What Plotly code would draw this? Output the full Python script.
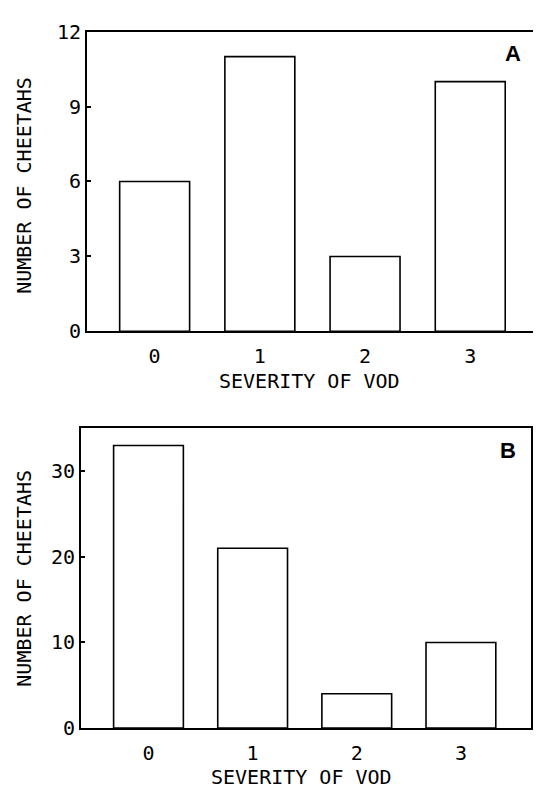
import plotly.graph_objects as go

W, H = 541, 799
OFF = 8  # default page body margin of the written html

severity = [0, 1, 2, 3]
tick_labels = ["0", "1", "2", "3"]
cheetahs_a = [6, 11, 3, 10]
cheetahs_b = [33, 21, 4, 10]
yticks_a = [0, 3, 6, 9, 12]
yticks_b = [0, 10, 20, 30]

FONT = "DejaVu Sans Mono"

def px_x(p):
    return (p - OFF) / W

def px_y(p):
    return 1 - (p - OFF) / H

fig = go.Figure()
bar_style = dict(marker=dict(color="white", line=dict(color="black", width=1.6)), showlegend=False, hoverinfo="skip")
fig.add_trace(go.Bar(x=severity, y=cheetahs_a, width=0.665, xaxis="x", yaxis="y", **bar_style))
fig.add_trace(go.Bar(x=severity, y=cheetahs_b, width=0.67, xaxis="x2", yaxis="y2", **bar_style))

ax_common = dict(showline=True, linecolor="black", linewidth=2, mirror=True, showgrid=False, zeroline=False,
                 tickfont=dict(family=FONT, size=20, color="black"), fixedrange=True)

fig.update_layout(
    width=W, height=H, margin=dict(l=0, r=0, t=0, b=0),
    paper_bgcolor="white", plot_bgcolor="white",
    xaxis=dict(domain=[px_x(87), px_x(540)], anchor="y", range=[-0.643, 3.663],
               tickvals=severity, ticktext=tick_labels, ticks="", ticklabelstandoff=6, **ax_common),
    yaxis=dict(domain=[px_y(329), px_y(20)], anchor="x", range=[0, 12],
               tickvals=yticks_a, ticks="inside", ticklen=4, tickwidth=1.5, tickcolor="black", **ax_common),
    xaxis2=dict(domain=[px_x(81), px_x(531)], anchor="y2", range=[-0.648, 3.673],
                tickvals=severity, ticktext=tick_labels, ticks="", ticklabelstandoff=6, **ax_common),
    yaxis2=dict(domain=[px_y(738), px_y(429)], anchor="x2", range=[0, 35],
                tickvals=yticks_b, ticks="inside", ticklen=4, tickwidth=1.5, tickcolor="black", **ax_common),
)

title_font = dict(family=FONT, size=20, color="black")
ann = [
    dict(text="SEVERITY OF VOD", x=px_x(309), y=px_y(380), font=title_font, textangle=0),
    dict(text="NUMBER OF CHEETAHS", x=px_x(24), y=px_y(179), font=title_font, textangle=-90),
    dict(text="SEVERITY OF VOD", x=px_x(301), y=px_y(788), font=title_font, textangle=0),
    dict(text="NUMBER OF CHEETAHS", x=px_x(24), y=px_y(584), font=title_font, textangle=-90),
    dict(text="<b>A</b>", x=px_x(513), y=px_y(43), font=dict(family="Liberation Sans", size=22, color="black"), textangle=0),
    dict(text="<b>B</b>", x=px_x(508), y=px_y(452), font=dict(family="Liberation Sans", size=22, color="black"), textangle=0),
]
for a in ann:
    fig.add_annotation(xref="paper", yref="paper", showarrow=False, xanchor="center", yanchor="middle", **a)

fig.write_html("out.html")
